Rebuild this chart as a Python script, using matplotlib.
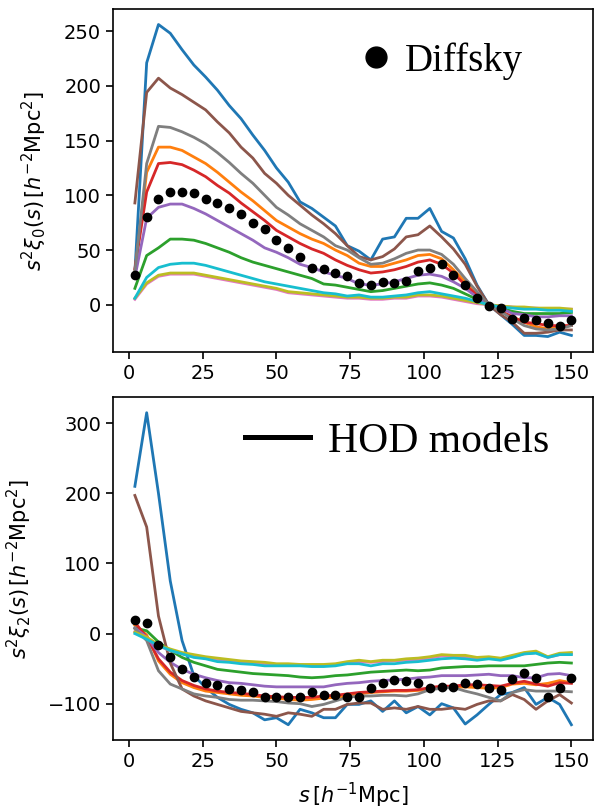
import numpy as np
import matplotlib
matplotlib.use("Agg")
import matplotlib.pyplot as plt
from matplotlib.lines import Line2D

# separation bins (h^-1 Mpc)
s = np.arange(2, 151, 4)

# monopole, s^2 xi_0, one row per HOD model (tab10 order)
xi0_models = [
    [30, 221, 256, 248, 233, 219, 208, 196, 182, 170, 155, 141, 125, 112, 94, 88, 80, 72, 54, 49,
     41, 60, 62, 79, 79, 88, 67, 61, 42, 18, 0, -9, -18, -28, -28, -29, -25, -28],
    [30, 121, 144, 144, 141, 135, 129, 121, 112, 103, 95, 86, 77, 71, 65, 60, 56, 50, 45, 38,
     35, 35, 38, 41, 45, 46, 42, 32, 21, 10, 0, -6, -11, -16, -20, -22, -20, -19],
    [15, 45, 52, 60, 60, 59, 56, 52, 48, 43, 39, 36, 33, 30, 27, 24, 19, 18, 16, 14,
     12, 13, 15, 17, 19, 20, 18, 15, 10, 5, 0, -3, -6, -8, -8, -8, -8, -7],
    [33, 103, 129, 130, 128, 123, 117, 109, 102, 93, 85, 77, 68, 62, 56, 51, 47, 41, 36, 32,
     29, 30, 32, 35, 39, 41, 37, 29, 18, 9, 0, -6, -11, -16, -17, -19, -19, -19],
    [25, 79, 89, 92, 92, 88, 83, 77, 71, 65, 59, 52, 48, 43, 37, 34, 30, 27, 24, 19,
     18, 19, 21, 24, 27, 28, 26, 21, 15, 7, 0, -3, -8, -9, -11, -11, -10, -10],
    [93, 194, 207, 198, 192, 185, 178, 167, 157, 144, 134, 120, 111, 100, 91, 82, 74, 65, 54, 44,
     41, 44, 51, 62, 64, 72, 62, 51, 37, 17, 0, -9, -16, -26, -26, -25, -23, -23],
    [5, 19, 26, 28, 28, 28, 26, 24, 22, 20, 18, 16, 14, 11, 10, 9, 8, 7, 6, 6,
     5, 5, 6, 6, 8, 8, 7, 5, 3, 1, 0, -1, -2, -3, -3, -4, -4, -4],
    [30, 129, 163, 162, 158, 153, 147, 139, 130, 120, 111, 100, 89, 82, 74, 68, 62, 54, 50, 43,
     37, 38, 42, 47, 50, 50, 46, 37, 24, 12, 0, -6, -13, -19, -22, -23, -22, -19],
    [6, 20, 27, 29, 29, 29, 27, 25, 23, 21, 19, 17, 15, 12, 11, 10, 9, 8, 7, 7,
     6, 6, 7, 7, 9, 9, 8, 6, 4, 2, 0, -1, -2, -2, -3, -3, -3, -4],
    [6, 25, 34, 37, 38, 38, 36, 33, 30, 27, 24, 21, 19, 17, 15, 13, 11, 10, 8, 9,
     7, 7, 8, 9, 11, 12, 10, 8, 6, 3, 0, -2, -3, -4, -4, -5, -5, -6],
]

# quadrupole, s^2 xi_2
xi2_models = [
    [210, 315, 200, 75, -10, -60, -77, -91, -101, -108, -113, -123, -120, -130, -108, -113, -120, -120, -101, -101,
     -96, -111, -96, -113, -104, -116, -100, -106, -129, -116, -101, -87, -84, -77, -101, -91, -101, -130],
    [12, -2, -39, -58, -70, -77, -82, -84, -86, -88, -89, -91, -92, -94, -95, -94, -92, -91, -89, -86,
     -84, -83, -82, -82, -81, -80, -77, -77, -76, -77, -78, -77, -72, -71, -73, -71, -67, -70],
    [8, 4, -12, -24, -34, -41, -46, -51, -53, -55, -57, -58, -59, -60, -62, -63, -62, -60, -59, -57,
     -55, -54, -53, -52, -53, -52, -49, -48, -47, -47, -46, -46, -46, -46, -44, -42, -41, -42],
    [16, -5, -36, -55, -67, -74, -79, -82, -84, -85, -87, -89, -90, -91, -91, -91, -89, -88, -86, -84,
     -83, -82, -81, -81, -80, -77, -75, -75, -73, -73, -74, -75, -71, -68, -72, -75, -70, -71],
    [8, -5, -27, -41, -51, -58, -63, -67, -70, -71, -73, -75, -76, -76, -76, -76, -76, -73, -71, -70,
     -68, -67, -66, -65, -63, -62, -60, -60, -60, -59, -58, -60, -60, -63, -63, -58, -57, -60],
    [197, 152, 25, -42, -79, -89, -96, -101, -106, -111, -113, -115, -118, -113, -115, -118, -108, -108, -101, -99,
     -99, -108, -106, -108, -104, -108, -108, -106, -108, -101, -96, -96, -87, -94, -108, -96, -87, -99],
    [3, -6, -18, -24, -29, -32, -35, -37, -39, -40, -42, -43, -44, -45, -45, -46, -46, -44, -42, -40,
     -41, -40, -39, -38, -37, -35, -32, -33, -33, -35, -35, -36, -33, -29, -27, -34, -30, -29],
    [7, -10, -53, -72, -79, -86, -89, -91, -94, -95, -95, -96, -97, -99, -100, -104, -101, -96, -91, -89,
     -89, -88, -88, -89, -86, -80, -78, -77, -82, -86, -91, -96, -84, -80, -82, -82, -82, -83],
    [2, -5, -16, -22, -27, -30, -33, -35, -37, -39, -40, -41, -43, -43, -44, -44, -44, -43, -40, -38,
     -40, -38, -38, -36, -35, -33, -30, -31, -31, -34, -33, -35, -31, -27, -25, -33, -28, -27],
    [0, -8, -17, -24, -29, -34, -36, -40, -41, -43, -44, -46, -46, -46, -46, -47, -47, -46, -43, -43,
     -46, -43, -43, -41, -40, -38, -36, -35, -36, -38, -36, -38, -34, -29, -28, -34, -30, -30],
]

# Diffsky measurement
xi0_diffsky = [27.5, 80, 97, 103, 103, 102, 97, 93, 88, 83, 75, 69, 59, 52, 44, 34, 33, 29, 26, 20,
               18, 21, 20, 22, 31, 34, 37, 27, 18, 6, -1, -3, -13, -12, -14, -17, -19, -14]
xi2_diffsky = [19, 15, -16, -34, -50, -62, -70, -73, -79, -80, -84, -90, -90, -90, -91, -83, -88, -88, -91, -90,
               -78, -70, -66, -68, -70, -77, -76, -76, -71, -72, -77, -80, -65, -56, -64, -91, -77, -64]

plt.rcParams["font.size"] = 14

fig, (ax0, ax1) = plt.subplots(2, 1, figsize=(5.95, 8.1), dpi=100)
fig.subplots_adjust(left=0.19, right=0.997, top=0.989, bottom=0.086, hspace=0.131)

for ax, models, dots in [(ax0, xi0_models, xi0_diffsky), (ax1, xi2_models, xi2_diffsky)]:
    for m in models:
        ax.plot(s, m, lw=2)
    ax.plot(s, dots, "o", color="k", ms=6, zorder=5)
    ax.set_xticks([0, 25, 50, 75, 100, 125, 150])
    ax.tick_params(labelsize=14, length=5, width=1.2)
    for sp in ax.spines.values():
        sp.set_linewidth(1.2)

ax0.set_yticks([0, 50, 100, 150, 200, 250])
ax1.set_yticks([-100, 0, 100, 200, 300])

ax0.set_ylabel(r"$s^2\xi_0(s)\,[h^{-2}\mathrm{Mpc}^2]$", fontsize=15, labelpad=11)
ax1.set_ylabel(r"$s^2\xi_2(s)\,[h^{-2}\mathrm{Mpc}^2]$", fontsize=15, labelpad=10)
ax1.set_xlabel(r"$s\,[h^{-1}\mathrm{Mpc}]$", fontsize=15, labelpad=7)

dot_handle = Line2D([], [], marker="o", color="k", ls="none", ms=15)
ax0.legend([dot_handle], ["Diffsky"], loc="center right", bbox_to_anchor=(0.854, 0.848),
           frameon=False, prop={"family": "Liberation Serif", "size": 28},
           handlelength=1.0, handletextpad=0.25, borderpad=0, borderaxespad=0)

line_handle = Line2D([], [], color="k", lw=3.6)
ax1.legend([line_handle], ["HOD models"], loc="center right", bbox_to_anchor=(0.908, 0.87),
           frameon=False, prop={"family": "Liberation Serif", "size": 30},
           handlelength=1.56, handletextpad=0.43, borderpad=0, borderaxespad=0)

fig.savefig("out.png", dpi=100)
